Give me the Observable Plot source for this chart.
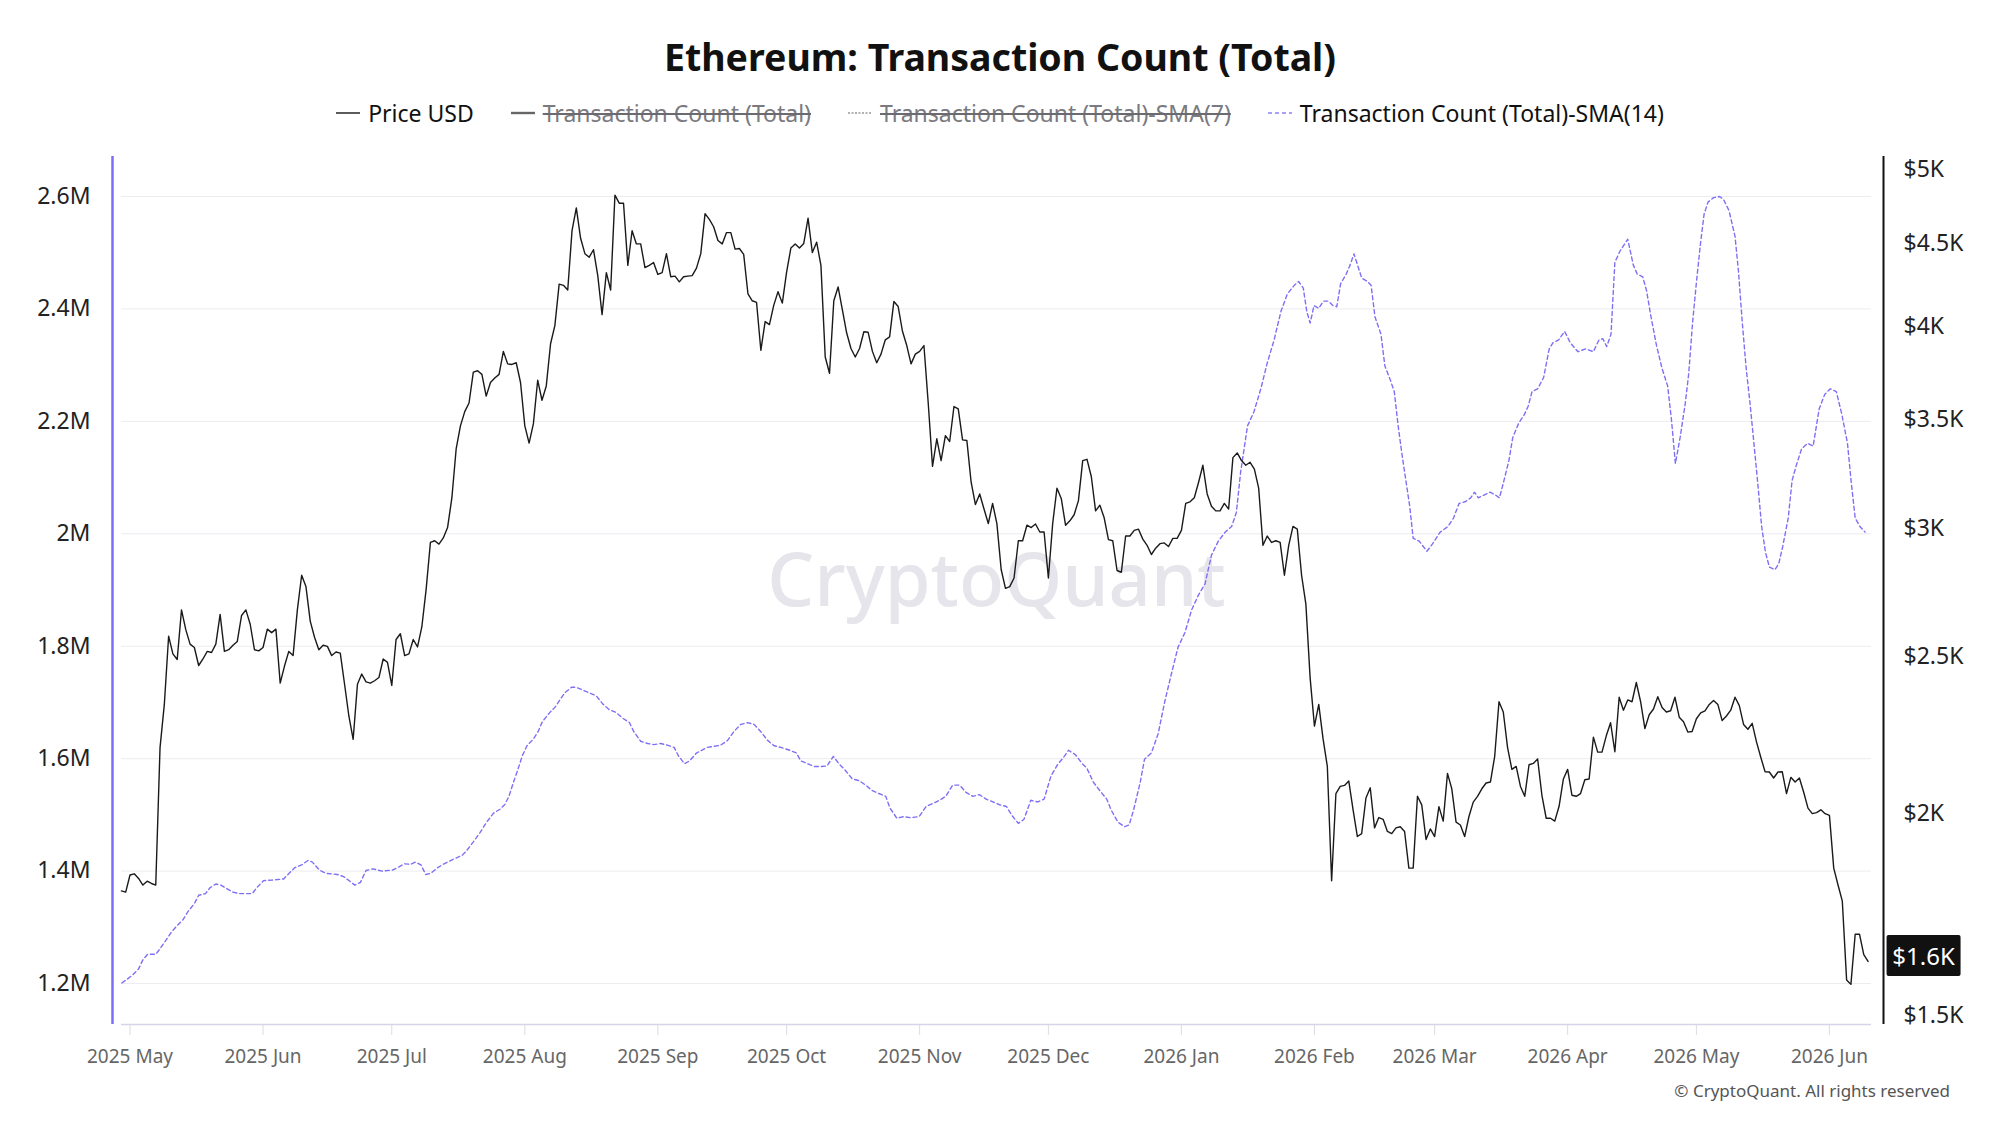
<!DOCTYPE html>
<html>
<head>
<meta charset="utf-8">
<script src="https://cdn.jsdelivr.net/npm/d3@7"></script>
<script src="https://cdn.jsdelivr.net/npm/@observablehq/plot@0.6"></script>
<style>
  html, body { margin: 0; padding: 0; background: #fff; }
  body { width: 2000px; height: 1125px; overflow: hidden; position: relative; font-family: "Noto Sans", "Open Sans", sans-serif; }
  #title { position: absolute; top: 30px; left: 0; width: 2000px; text-align: center; font-size: 37.5px; font-weight: 700; line-height: 54px; color: #111; }
  #legend { position: absolute; top: 96px; left: 0; width: 2000px; display: flex; justify-content: center; gap: 37px; font-size: 23px; line-height: 34px; color: #111; }
  #legend .item { display: flex; align-items: center; gap: 8px; white-space: nowrap; }
  #legend .off { color: #7a7a80; text-decoration: line-through; text-decoration-color: #6a6a70; text-decoration-thickness: 2px; }
  #chart { position: absolute; top: 140px; left: 0; }
  #caption { position: absolute; top: 1079px; right: 50px; font-size: 17px; color: #555; }
</style>
</head>
<body>
<div id="title"></div>
<div id="legend"></div>
<div id="chart"></div>
<div id="caption">© CryptoQuant. All rights reserved</div>
<script>
// ---------------- DATA ----------------
const chartTitle = "Ethereum: Transaction Count (Total)";
const seriesNames = ["Price USD", "Transaction Count (Total)", "Transaction Count (Total)-SMA(7)", "Transaction Count (Total)-SMA(14)"];
const hiddenSeries = ["Transaction Count (Total)", "Transaction Count (Total)-SMA(7)"];

// Daily ETH price (USD), starting 2025-04-29
const priceStartDate = "2025-04-29";
const priceUSD = [
  1792,1789,1833,1836,1824,1807,1817,1811,1807,2197,2336,2574,
  2510,2490,2672,2598,2545,2533,2469,2492,2519,2515,
  2545,2655,2519,2525,2541,2555,2651,2672,2619,2525,
  2521,2533,2600,2587,2600,2408,2467,2519,2504,2672,
  2807,2762,2630,2570,2525,2541,2537,2504,2517,2513,
  2404,2298,2223,2404,2439,2412,2408,2416,2427,2492,
  2480,2400,2562,2583,2504,2510,2562,2535,2608,2750,
  2941,2948,2934,2960,3004,3133,3359,3471,3542,3586,
  3747,3754,3735,3621,3692,3716,3735,3859,3791,3788,
  3797,3692,3471,3387,3482,3704,3600,3674,3901,4003,
  4246,4239,4211,4581,4732,4532,4434,4412,4459,4298,
  4066,4316,4211,4819,4764,4764,4361,4581,4496,4496,
  4347,4361,4379,4305,4316,4434,4291,4295,4260,4291,
  4295,4298,4344,4434,4694,4656,4607,4518,4496,4569,
  4569,4463,4467,4430,4187,4147,4137,3865,4026,4009,
  4120,4201,4133,4319,4470,4496,4470,4499,4664,4441,
  4507,4361,3828,3741,4147,4229,4093,3961,3875,3828,
  3875,3968,3965,3859,3797,3844,3923,3939,4143,4113,
  3971,3891,3791,3844,3859,3891,3586,3277,3408,3304,
  3423,3395,3568,3556,3403,3400,3204,3104,3151,3084,
  3021,3109,3021,2830,2755,2762,2796,2948,2948,3014,
  3004,3019,2985,2985,2796,3021,3177,3131,3014,3033,
  3059,3121,3304,3310,3230,3076,3101,3046,2953,2948,
  2826,2819,2968,2968,2992,2997,2955,2929,2891,2917,
  2936,2939,2924,2958,2958,2992,3109,3116,3134,3204,
  3282,3151,3096,3076,3076,3109,3084,3318,3340,3304,
  3282,3296,3264,3177,2929,2968,2941,2948,2941,2807,
  2929,3009,2997,2807,2694,2424,2265,2336,2225,2139,
  1818,2058,2079,2082,2095,2011,1936,1944,2045,2075,
  1960,1989,1984,1950,1944,1960,1963,1950,1851,1851,
  2050,2025,1928,1957,1936,2020,1979,2118,2072,1976,
  1968,1936,1992,2033,2050,2072,2089,2092,2170,2345,
  2311,2197,2130,2139,2079,2050,2144,2148,2162,2053,
  1987,1987,1979,2021,2101,2130,2053,2050,2058,2099,
  2101,2230,2183,2183,2234,2276,2184,2360,2317,2351,
  2345,2410,2345,2257,2302,2321,2362,2326,2311,2315,
  2360,2294,2279,2246,2248,2289,2308,2315,2336,2349,
  2336,2283,2298,2317,2360,2332,2270,2255,2274,2215,
  2167,2123,2122,2104,2122,2123,2058,2106,2092,2104,
  2062,2016,2000,2003,2011,2000,1995,1851,1807,1766,
  1579,1569,1685,1685,1637,1621
];

// SMA(14) of transaction count (millions); x = days since 2025-05-01
const smaBaseDate = "2025-05-01";
const smaDayOffset = [
  -1.9,-0.6,0.6,2.0,3.0,4.1,6.0,7.0,8.2,9.6,11.0,12.4,13.6,15.0,16.0,17.6,18.6,20.0,21.2,22.3,
  23.8,25.4,28.5,29.5,31.1,33.2,35.8,36.8,38.4,40.0,41.5,42.5,44.1,45.7,48.3,49.8,51.4,52.4,53.7,55.0,
  56.6,58.7,61.3,62.3,63.9,65.4,66.5,67.8,68.9,70.1,71.7,73.2,75.3,77.4,78.4,80.0,81.6,83.1,84.7,86.2,
  87.3,88.3,89.4,90.4,91.4,92.5,94.0,95.1,96.1,97.7,99.2,100.3,101.3,102.9,103.9,105.5,107.0,108.6,110.2,111.7,
  113.3,114.8,116.4,117.4,119.0,120.6,122.1,123.7,125.2,126.8,127.8,129.2,130.4,132.0,
  134.5,136.1,137.6,139.2,140.7,142.3,143.9,145.4,147.0,148.5,150.1,151.7,153.7,155.3,156.3,157.9,159.5,161.0,162.4,163.9,
  165.2,166.7,168.3,169.9,171.4,173.0,174.5,176.1,177.1,178.7,180.3,181.8,183.9,185.5,187.0,188.6,190.1,191.7,193.3,194.8,
  196.4,197.9,199.5,201.1,202.6,204.2,205.7,207.0,208.3,209.9,211.5,213.0,214.6,216.1,217.7,218.7,220.3,221.9,222.9,224.5,
  226.0,227.6,228.6,230.2,231.8,232.8,233.8,235.4,236.4,238.0,239.6,241.1,242.7,244.2,245.8,247.4,248.9,250.5,252.0,253.6,
  255.2,256.7,257.8,258.8,260.4,261.9,263.5,265.0,266.6,268.2,269.7,271.3,272.3,273.4,274.2,275.0,
  275.9,277.0,278.1,279.2,280.3,281.2,282.1,283.4,284.3,285.2,286.3,287.0,288.3,289.2,290.1,291.5,292.4,293.7,294.6,295.5,
  296.4,297.3,298.2,299.0,300.4,302.2,303.5,305.3,307.1,308.4,309.7,311.1,312.4,313.3,314.2,315.5,316.9,318.2,319.1,320.0,
  321.3,322.2,323.6,324.9,325.8,326.7,328.0,329.4,330.7,331.6,332.9,334.3,335.6,337.4,339.2,341.0,342.3,343.2,344.1,345.1,
  346.0,347.2,349.0,350.3,351.2,352.5,353.4,354.3,355.7,357.0,358.3,359.2,360.1,361.2,362.4,363.2,364.1,365.0,365.9,366.8,
  367.7,369.0,370.4,371.3,372.6,374.0,374.8,375.7,376.6,377.5,378.4,379.3,380.2,381.1,382.0,383.3,384.2,385.1,386.4,387.3,
  388.2,389.5,390.9,392.2,393.6,394.9,396.2,397.6,398.9,400.2,401.1,402.0,403.1,404.3
];
const smaTxM = [
  1.201,1.208,1.215,1.226,1.242,1.252,1.252,1.262,1.275,1.291,1.303,1.314,1.329,1.342,1.357,1.360,1.370,1.377,1.375,1.370,
  1.363,1.360,1.360,1.370,1.383,1.384,1.386,1.394,1.406,1.411,1.419,1.416,1.402,1.396,1.394,1.390,1.381,1.375,1.380,1.401,
  1.404,1.400,1.402,1.406,1.413,1.412,1.416,1.411,1.394,1.396,1.406,1.413,1.421,1.428,1.436,1.452,1.469,1.487,1.503,1.510,
  1.518,1.533,1.559,1.581,1.605,1.623,1.635,1.648,1.666,1.681,1.693,1.706,1.717,1.727,1.727,1.722,1.717,1.712,1.697,1.687,
  1.682,1.672,1.664,1.648,1.631,1.627,1.625,1.627,1.624,1.620,1.605,1.591,1.596,1.610,
  1.620,1.622,1.624,1.632,1.648,1.661,1.664,1.661,1.648,1.633,1.623,1.620,1.615,1.610,1.596,1.591,1.586,1.586,1.587,1.604,
  1.591,1.579,1.564,1.561,1.553,1.543,1.538,1.533,1.512,1.494,1.497,1.495,1.497,1.515,1.520,1.526,1.533,1.553,1.553,1.540,
  1.533,1.536,1.528,1.523,1.518,1.515,1.497,1.485,1.492,1.526,1.523,1.528,1.569,1.589,1.604,1.615,1.607,1.591,1.584,1.558,
  1.543,1.528,1.509,1.487,1.479,1.482,1.507,1.558,1.599,1.610,1.645,1.701,1.752,1.798,1.824,1.865,1.890,1.911,1.962,1.987,
  2.003,2.013,2.038,2.110,2.192,2.217,2.258,2.304,2.345,2.396,2.427,2.442,2.449,2.437,2.396,2.375,
  2.406,2.401,2.414,2.414,2.406,2.404,2.445,2.462,2.478,2.498,2.472,2.455,2.449,2.442,2.386,2.355,2.299,2.273,2.253,2.192,
  2.141,2.095,2.049,1.992,1.987,1.969,1.982,2.003,2.013,2.028,2.054,2.057,2.064,2.074,2.064,2.069,2.074,2.069,2.064,2.090,
  2.130,2.171,2.197,2.212,2.227,2.253,2.258,2.278,2.329,2.340,2.345,2.360,2.340,2.324,2.329,2.324,2.345,2.347,2.333,2.355,
  2.483,2.503,2.524,2.478,2.462,2.457,2.432,2.391,2.335,2.294,2.263,2.202,2.125,2.171,2.232,2.284,2.375,2.447,2.513,2.569,
  2.590,2.598,2.600,2.595,2.575,2.529,2.467,2.375,2.294,2.232,2.161,2.090,2.013,1.967,1.941,1.936,1.947,1.977,2.028,2.095,
  2.120,2.151,2.161,2.156,2.222,2.248,2.258,2.253,2.212,2.161,2.090,2.028,2.013,2.003
];

// Axis ticks
const txTicksM = [1.2, 1.4, 1.6, 1.8, 2.0, 2.2, 2.4, 2.6];
const txTickLabels = ["1.2M", "1.4M", "1.6M", "1.8M", "2M", "2.2M", "2.4M", "2.6M"];
const priceTicks = [1500, 2000, 2500, 3000, 3500, 4000, 4500, 5000];
const priceTickLabels = ["$1.5K", "$2K", "$2.5K", "$3K", "$3.5K", "$4K", "$4.5K", "$5K"];
const monthTickLabelFormat = "%Y %b";

// ---------------- BUILD ----------------
document.getElementById("title").textContent = chartTitle;

const legendColors = {
  "Price USD": { stroke: "#333", width: 1.6, dash: null },
  "Transaction Count (Total)": { stroke: "#666", width: 2.4, dash: null },
  "Transaction Count (Total)-SMA(7)": { stroke: "#999", width: 1.4, dash: "2,1.5" },
  "Transaction Count (Total)-SMA(14)": { stroke: "#8c80f6", width: 1.6, dash: "4,3" }
};
const legend = document.getElementById("legend");
for (const name of seriesNames) {
  const st = legendColors[name];
  const item = document.createElement("div");
  item.className = "item";
  item.innerHTML = `<svg width="24" height="10"><line x1="0" x2="24" y1="5" y2="5" stroke="${st.stroke}" stroke-width="${st.width}" ${st.dash ? `stroke-dasharray="${st.dash}"` : ""}/></svg>` +
    `<span class="${hiddenSeries.includes(name) ? "off" : ""}">${name}</span>`;
  legend.appendChild(item);
}

const dayMs = 864e5;
const priceStart = new Date(priceStartDate + "T00:00:00Z");
const priceData = priceUSD.map((p, i) => ({ date: new Date(+priceStart + i * dayMs), price: p }));
const smaBase = new Date(smaBaseDate + "T00:00:00Z");
const smaData = smaDayOffset.map((d, i) => ({ date: new Date(+smaBase + d * dayMs), tx: smaTxM[i] }));

// Layout / scale domains
const W = 2000, H = 940;
const mTop = 16, mBottom = 56, mLeft = 121, mRight = 129;
const xDomain = [new Date(+smaBase - 1.98 * dayMs), new Date(+smaBase + 405.8 * dayMs)];
const yDomain = [1.1271, 2.6712];            // transaction count (millions), left axis
const priceDomain = [1482, 5091];            // log-scaled price axis (right)
const priceToY = d3.scaleLog().domain(priceDomain).range(yDomain);

const txLabel = new Map(txTicksM.map((v, i) => [v, txTickLabels[i]]));
const prTicksY = priceTicks.map(p => priceToY(p));
const prLabel = new Map(prTicksY.map((v, i) => [v, priceTickLabels[i]]));
const months = d3.utcMonth.range(d3.utcMonth.ceil(xDomain[0]), xDomain[1]);
const fmtMonth = d3.utcFormat(monthTickLabelFormat);

const last = priceData[priceData.length - 1];
const lastLabel = `$${(last.price / 1000).toFixed(1)}K`;

const plot = Plot.plot({
  width: W, height: H,
  marginTop: mTop, marginBottom: mBottom, marginLeft: mLeft, marginRight: mRight,
  style: { fontFamily: "'Noto Sans', 'Open Sans', sans-serif", background: "#fff", overflow: "visible" },
  x: { type: "utc", domain: xDomain },
  y: { domain: yDomain },
  marks: [
    Plot.text(["CryptoQuant"], { frameAnchor: "middle", fontSize: 74, fontWeight: 500, fill: "#e5e5eb", dy: -8, dx: 0 }),
    Plot.gridY(txTicksM, { stroke: "#ececf1", strokeOpacity: 1, strokeWidth: 1 }),
    Plot.axisY(txTicksM, { anchor: "left", tickSize: 0, tickPadding: 31, fontSize: 23, fill: "#222", tickFormat: v => txLabel.get(v), label: null }),
    Plot.axisY(prTicksY, { anchor: "right", tickSize: 0, tickPadding: 32, fontSize: 23, fill: "#222", tickFormat: v => prLabel.get(v), label: null }),
    Plot.axisX(months, { tickSize: 11, tickPadding: 14, fontSize: 19, fill: "#666", stroke: "#dcdce4", tickFormat: fmtMonth, label: null }),
    Plot.ruleY([yDomain[0]], { stroke: "#d6d4e6", strokeWidth: 1.5 }),
    Plot.ruleX([xDomain[0]], { stroke: "#7d6ef7", strokeWidth: 2.5, dx: -9 }),
    Plot.ruleX([xDomain[1]], { stroke: "#111", strokeWidth: 2, dx: 12 }),
    Plot.line(smaData, { x: "date", y: "tx", stroke: "#7e70f5", strokeWidth: 1.4, strokeDasharray: "4,3" }),
    Plot.line(priceData, { x: "date", y: d => priceToY(d.price), stroke: "#1a1a1a", strokeWidth: 1.4 }),
    Plot.text([last], { x: () => xDomain[1], y: d => priceToY(d.price), text: () => lastLabel, dx: 52, dy: -4, fontSize: 24, fill: "#fff", textAnchor: "middle" })
  ]
});
document.getElementById("chart").appendChild(plot);

// black box behind the last-price label
const lt = Array.from(plot.querySelectorAll("text")).find(t => t.textContent === lastLabel && t.getAttribute("fill") !== null || (t.textContent === lastLabel));
if (lt) {
  const bb = lt.getBBox();
  const r = document.createElementNS("http://www.w3.org/2000/svg", "rect");
  const cx = bb.x + bb.width / 2, cy = bb.y + bb.height / 2;
  const bw = 74, bh = 41;
  r.setAttribute("x", cx - bw / 2); r.setAttribute("y", cy - bh / 2);
  r.setAttribute("width", bw); r.setAttribute("height", bh);
  r.setAttribute("rx", 2); r.setAttribute("fill", "#111");
  const tr = lt.getAttribute("transform");
  if (tr) r.setAttribute("transform", tr);
  lt.parentNode.insertBefore(r, lt);
}
</script>
</body>
</html>
